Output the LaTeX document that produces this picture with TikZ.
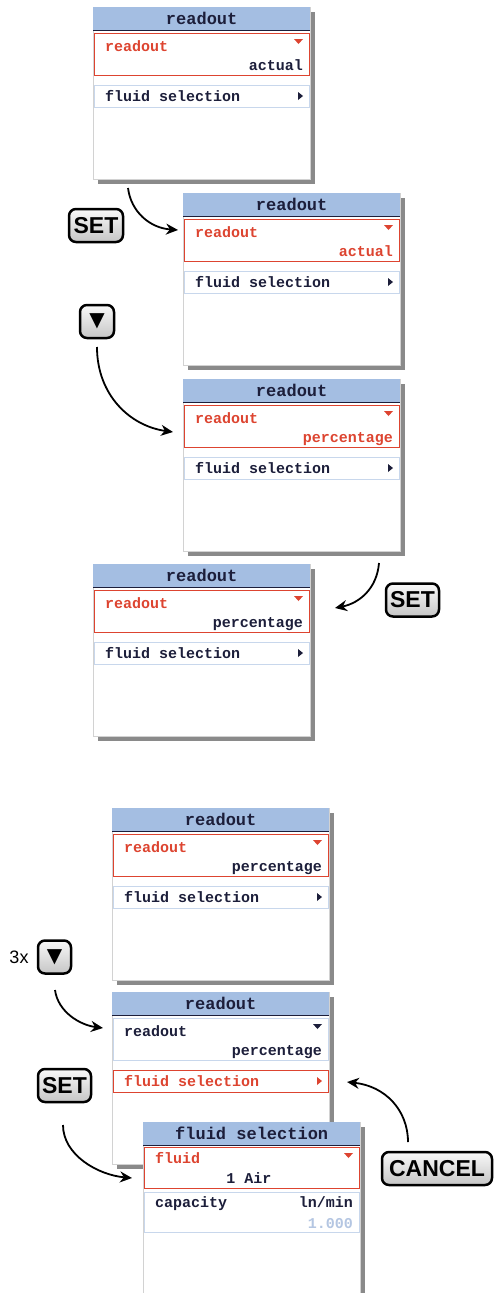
\documentclass[tikz,border=0pt]{standalone}
\usepackage{fontspec}
\setmainfont{Liberation Sans}
\newfontfamily\lcdfont{Liberation Mono}
\newfontfamily\symfont{DejaVu Sans}
\usetikzlibrary{arrows.meta,shadows}
\definecolor{hot}{RGB}{221,68,48}
\definecolor{lcd}{RGB}{28,30,58}
\definecolor{headblue}{RGB}{164,190,226}
\definecolor{rowblue}{RGB}{200,215,236}
\definecolor{faded}{RGB}{180,198,226}
\definecolor{shade}{RGB}{138,138,138}
\begin{document}
\begin{tikzpicture}[x=1pt,y=-1pt]
  \tikzstyle{screen}=[anchor=north west,minimum width=217,minimum height=172,inner sep=0,
                      fill=white,draw=gray!35,line width=0.8,
                      drop shadow={shadow xshift=5pt,shadow yshift=-5pt,fill=shade,opacity=1}]
  \tikzstyle{head}=[anchor=north west,minimum width=217,minimum height=23,inner sep=0,fill=headblue,
                    text=lcd,font=\lcdfont\bfseries\fontsize{17}{17}\selectfont]
  \tikzstyle{row}=[anchor=north west,minimum width=215,inner sep=0,fill=white,line width=1.3]
  \tikzstyle{txt}=[inner sep=0,font=\lcdfont\bfseries\fontsize{15}{15}\selectfont]
  \tikzstyle{key}=[draw=black,line width=2.5,rounded corners=7,top color=gray!5,bottom color=gray!45,
                   minimum height=33,inner sep=4,font=\bfseries\fontsize{23}{23}\selectfont]
  \tikzstyle{move}=[-{Stealth[length=12pt,width=11pt]},line width=1.8]
  \useasboundingbox (0,0) rectangle (496,1293);

  % readout screens
  \foreach \n/\x/\y/\val/\vc/\ta/\ba/\tb/\bb in
    {1/93/7/actual/lcd/hot/hot/lcd/rowblue,
     2/183/193/actual/hot/hot/hot/lcd/rowblue,
     3/183/379/percentage/hot/hot/hot/lcd/rowblue,
     4/93/564/percentage/lcd/hot/hot/lcd/rowblue,
     5/112/808/percentage/lcd/hot/hot/lcd/rowblue,
     6/112/992/percentage/lcd/lcd/rowblue/hot/hot}
  {
    \node[screen] (s\n) at (\x,\y) {};
    \node[head] (h\n) at (s\n.north west) {readout};
    \draw[lcd,line width=1.5] (h\n.south west) -- (h\n.south east);
    \node[row,draw=\ba,minimum height=42] (r\n) at ({\x+1},{\y+26}) {};
    \node[txt,anchor=base west,text=\ta] (lr\n) at ({\x+12},{\y+44}) {readout};
    \node[txt,anchor=base east,text=\vc] (vr\n) at ({\x+210},{\y+63}) {\val};
    \fill[\ta] ({\x+201},{\y+32}) -- ++(9,0) -- ++(-4.5,5) -- cycle;
    \node[row,draw=\bb,minimum height=22] (f\n) at ({\x+1},{\y+78}) {};
    \node[txt,anchor=base west,text=\tb] (lf\n) at ({\x+12},{\y+94}) {fluid selection};
    \fill[\tb] ({\x+205},{\y+85}) -- ++(0,8) -- ++(5,-4) -- cycle;
  }

  % fluid selection screen
  \node[screen] (s7) at (143,1122) {};
  \node[head] (h7) at (s7.north west) {fluid selection};
  \draw[lcd,line width=1.5] (h7.south west) -- (h7.south east);
  \node[row,draw=hot,minimum height=41] (r7) at (144,1147) {};
  \node[txt,anchor=base west,text=hot] (lr7) at (155,1163) {fluid};
  \node[txt,anchor=base,text=lcd] (vr7) at (249,1183) {1 Air};
  \fill[hot] (344,1153) -- ++(9,0) -- ++(-4.5,5) -- cycle;
  \node[row,draw=rowblue,minimum height=40] (c7) at (144,1192) {};
  \node[txt,anchor=base west,text=lcd] (lc7) at (155,1207) {capacity};
  \node[txt,anchor=base east,text=lcd] (uc7) at (353,1207) {ln/min};
  \node[txt,anchor=base east,text=faded] (vc7) at (353,1228) {1.000};

  % keys
  \node[key,minimum width=54] (set1) at (96,225.5) {SET};
  \node[key,minimum width=34,inner sep=2] (down1) at (97,321.5) {\symfont\fontsize{20}{20}\selectfont ▼};
  \node[key,minimum width=53] (set2) at (412.5,600) {SET};
  \node[inner sep=0,font=\fontsize{18}{18}\selectfont] (times) at (19,957) {3x};
  \node[key,minimum width=33,inner sep=2] (down2) at (54.5,957) {\symfont\fontsize{20}{20}\selectfont ▼};
  \node[key,minimum width=53] (set3) at (64.5,1085.5) {SET};
  \node[key,minimum width=110] (cancel) at (437,1168.5) {CANCEL};

  % moves
  \coordinate (a1s) at (128,188);  \coordinate (a1e) at (178,230);
  \coordinate (a2s) at (97,347);   \coordinate (a2e) at (173,432);
  \coordinate (a3s) at (379,563);  \coordinate (a3e) at (335,608);
  \coordinate (a4s) at (55,990);   \coordinate (a4e) at (103,1028);
  \coordinate (a5s) at (63,1125);  \coordinate (a5e) at (132,1178);
  \coordinate (a6s) at (408,1142); \coordinate (a6e) at (347,1082);
  \draw[move] (a1s) .. controls (131,212) and (150,228) .. (a1e);
  \draw[move] (a2s) .. controls (97,395) and (130,426) .. (a2e);
  \draw[move] (a3s) .. controls (377,588) and (360,603) .. (a3e);
  \draw[move] (a4s) .. controls (58,1012) and (80,1025) .. (a4e);
  \draw[move] (a5s) .. controls (63,1155) and (98,1175) .. (a5e);
  \draw[move] (a6s) .. controls (408,1110) and (385,1086) .. (a6e);
\end{tikzpicture}
\end{document}
